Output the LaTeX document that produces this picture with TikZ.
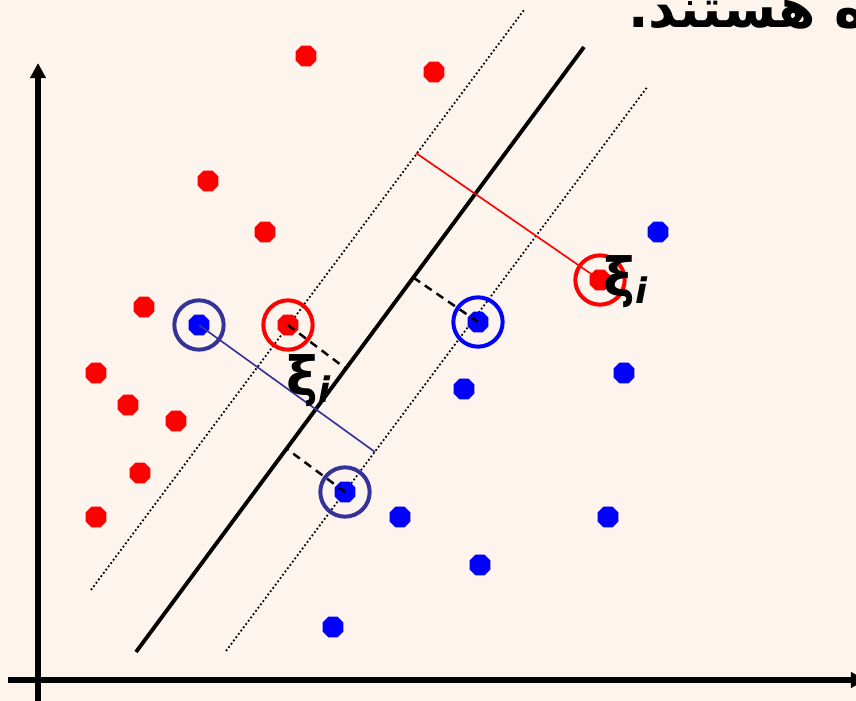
\documentclass[tikz,border=0pt]{standalone}
\usepackage{fontspec}
\setmainfont{DejaVu Sans}
\newfontfamily\arabicfont[Script=Arabic]{DejaVu Sans}
\TeXXeTstate=1
\usetikzlibrary{arrows.meta,shapes.geometric}
\definecolor{bg}{RGB}{253,244,238}
\definecolor{navy}{RGB}{51,51,153}
\definecolor{ptred}{RGB}{255,0,0}
\definecolor{ptblue}{RGB}{0,0,255}
\tikzset{
  dotpt/.style={regular polygon, regular polygon sides=8, minimum size=0.68cm, inner sep=0pt, draw=none},
  redpt/.style={dotpt, fill=ptred},
  bluept/.style={dotpt, fill=ptblue},
  ring/.style={circle, minimum size=1.48cm, inner sep=0pt, draw=#1, line width=3.4pt},
  axis/.style={line width=4.6pt, -{Triangle[length=13pt,width=13pt]}},
  margin/.style={line width=1.5pt, dotted},
  perp/.style={line width=2.1pt, dash pattern=on 7pt off 5pt},
  xilabel/.style={font=\fontsize{46}{46}\selectfont\bfseries, inner sep=0pt}
}
\begin{document}
\begin{tikzpicture}[x=0.03cm,y=-0.03cm]
\fill[bg] (0,0) rectangle (856,701);
\useasboundingbox (0,0) rectangle (856,701);
\clip (0,0) rectangle (856,701);
% axes
\coordinate (yA) at (38,705);
\coordinate (yB) at (38,63);
\coordinate (xA) at (8,680);
\coordinate (xB) at (866,680);
\draw[axis] (yA) -- (yB);
\draw[axis] (xA) -- (xB);
% hyperplane and margins
\coordinate (mA) at (136,652);
\coordinate (mB) at (584,47);
\coordinate (lA) at (91,590);
\coordinate (lB) at (524,10);
\coordinate (rA) at (226,651);
\coordinate (rB) at (648,86);
\draw[margin] (lA) -- (lB);
\draw[margin] (rA) -- (rB);
\draw[line width=3.3pt] (mA) -- (mB);
% red points
\node[redpt] (r1) at (306,56) {};
\node[redpt] (r2) at (434,72) {};
\node[redpt] (r3) at (208,181) {};
\node[redpt] (r4) at (265,232) {};
\node[redpt] (r5) at (144,307) {};
\node[redpt] (r6) at (96,373) {};
\node[redpt] (r7) at (128,405) {};
\node[redpt] (r8) at (176,421) {};
\node[redpt] (r9) at (140,473) {};
\node[redpt] (r10) at (96,517) {};
\node[redpt] (r11) at (288,325) {};
\node[redpt] (r12) at (600,280) {};
% blue points
\node[bluept] (b1) at (658,232) {};
\node[bluept] (b2) at (624,373) {};
\node[bluept] (b3) at (464,389) {};
\node[bluept] (b4) at (400,517) {};
\node[bluept] (b5) at (608,517) {};
\node[bluept] (b6) at (480,565) {};
\node[bluept] (b7) at (333,627) {};
\node[bluept] (b8) at (199,325) {};
\node[bluept] (b9) at (478,322) {};
\node[bluept] (b10) at (345,492) {};
% perpendicular dashed segments to the hyperplane
\coordinate (d1) at (345,368);
\coordinate (d2) at (414,278);
\coordinate (d3) at (287,449);
\draw[perp] (r11.center) -- (d1);
\draw[perp] (b9.center) -- (d2);
\draw[perp] (b10.center) -- (d3);
% slack segments
\coordinate (s1) at (416,153);
\coordinate (s2) at (375,452);
\draw[ptred, line width=1.4pt] (s1) -- (r12.center);
\draw[navy, line width=1.4pt] (b8.center) -- (s2);
% rings
\node[ring=ptred] (c1) at (r11) {};
\node[ring=ptred] (c2) at (r12) {};
\node[ring=navy] (c3) at (b8) {};
\node[ring=ptblue] (c4) at (b9) {};
\node[ring=navy] (c5) at (b10) {};
% labels
\node[xilabel, anchor=base west] (xi1) at (286,395) {ξ\raisebox{-0.25ex}{\fontsize{30}{30}\selectfont\itshape i}};
\node[xilabel, anchor=base west] (xi2) at (603,296) {ξ\raisebox{-0.25ex}{\fontsize{30}{30}\selectfont\itshape i}};
% cut-off Persian text
\node[anchor=base west, inner sep=0pt, font=\fontsize{46}{46}\selectfont\bfseries] (title) at (628,27) {\arabicfont\beginR ه هستند.\endR};
\end{tikzpicture}
\end{document}
